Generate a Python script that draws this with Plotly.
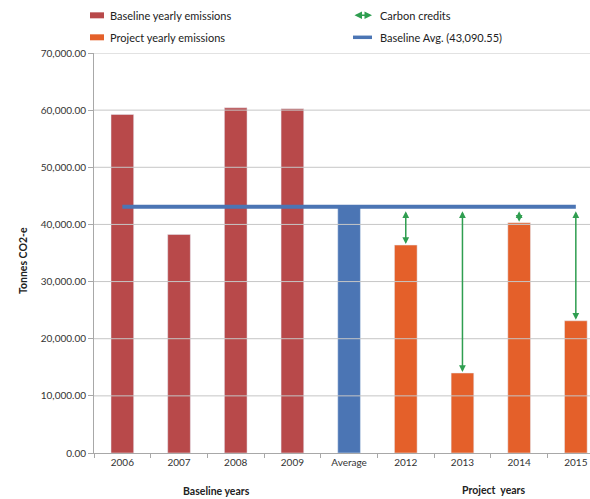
import plotly.graph_objects as go

categories = ["2006", "2007", "2008", "2009", "Average", "2012", "2013", "2014", "2015"]
baseline_years = ["2006", "2007", "2008", "2009"]
baseline_values = [59250, 38250, 60400, 60230]
baseline_avg = 43090.55
project_years = ["2012", "2013", "2014", "2015"]
project_values = [36390, 14000, 40280, 23140]
y_ticks = [0, 10000, 20000, 30000, 40000, 50000, 60000, 70000]

RED = "#b8494a"
ORANGE = "#e4602a"
BLUE = "#4b75b4"
GREEN = "#2f9e50"
FONT = "Lato"

fig = go.Figure()

# gridlines as a line trace on a hidden overlaying linear x axis
gx, gy = [], []
for t in y_ticks[1:]:
    gx += [0, 1, None]
    gy += [t, t, None]
fig.add_trace(go.Scatter(x=gx, y=gy, xaxis="x2", yaxis="y", mode="lines",
                         line=dict(color="#c6c6c6", width=1), hoverinfo="skip",
                         showlegend=False, name="grid"))

fig.add_trace(go.Bar(x=baseline_years, y=baseline_values, marker_color=RED, width=0.4,
                     name="Baseline yearly emissions", showlegend=False))
fig.add_trace(go.Bar(x=["Average"], y=[baseline_avg], marker_color=BLUE, width=0.4,
                     name="Average", showlegend=False))
fig.add_trace(go.Bar(x=project_years, y=project_values, marker_color=ORANGE, width=0.4,
                     name="Project yearly emissions", showlegend=False))
fig.add_trace(go.Scatter(x=[categories[0], categories[-1]], y=[baseline_avg, baseline_avg],
                         mode="lines", line=dict(color=BLUE, width=4),
                         name="Baseline Avg.", showlegend=False))

annotations = []
for yr, v in zip(project_years, project_values):
    xi = categories.index(yr)
    annotations.append(dict(x=xi, y=v, ax=xi, ay=baseline_avg, xref="x", yref="y",
                            axref="x", ayref="y", text="", showarrow=True,
                            arrowhead=2, startarrowhead=2, arrowside="end+start",
                            arrowsize=0.9, startarrowsize=0.9, arrowwidth=1.5,
                            arrowcolor=GREEN, startstandoff=3, standoff=1))

# axis group labels
annotations.append(dict(x=0.247, y=-0.095, xref="paper", yref="paper", text="<b>Baseline years</b>",
                        showarrow=False, font=dict(family=FONT, size=10.5, color="#222"),
                        xanchor="center", yanchor="middle"))
annotations.append(dict(x=0.806, y=-0.093, xref="paper", yref="paper", text="<b>Project  years</b>",
                        showarrow=False, font=dict(family=FONT, size=10.5, color="#222"),
                        xanchor="center", yanchor="middle"))
annotations.append(dict(x=-0.143, y=0.48, xref="paper", yref="paper", text="<b>Tonnes CO2-e</b>",
                        showarrow=False, textangle=-90, font=dict(family=FONT, size=10.5, color="#222"),
                        xanchor="center", yanchor="middle"))

# manual legend
def px_x(px):
    return (px - 94) / 496.0

def px_y(py):
    return (453 - py) / 400.3

shapes = []
legend_items = [
    ("rect", RED, "Baseline yearly emissions", 90, 15),
    ("rect", ORANGE, "Project yearly emissions", 90, 37),
    ("arrow", GREEN, "Carbon credits", 353, 15),
    ("line", BLUE, "Baseline Avg. (43,090.55)", 353, 37),
]
for kind, col, label, lx, ly in legend_items:
    if kind == "rect":
        shapes.append(dict(type="rect", xref="paper", yref="paper", x0=px_x(lx), x1=px_x(lx + 14),
                           y0=px_y(ly + 3), y1=px_y(ly - 3), fillcolor=col, line=dict(width=0)))
        tx = lx + 18
    elif kind == "line":
        shapes.append(dict(type="line", xref="paper", yref="paper", x0=px_x(lx), x1=px_x(lx + 19),
                           y0=px_y(ly), y1=px_y(ly), line=dict(color=col, width=3.5)))
        tx = lx + 25
    else:
        annotations.append(dict(x=px_x(lx + 19), y=px_y(ly), xref="paper", yref="paper",
                                ax=-19, ay=0, axref="pixel", ayref="pixel", text="", showarrow=True,
                                arrowhead=2, startarrowhead=2, arrowside="end+start",
                                arrowwidth=1.5, arrowcolor=col))
        tx = lx + 25
    annotations.append(dict(x=px_x(tx), y=px_y(ly), xref="paper", yref="paper", text=label,
                            showarrow=False, xanchor="left", yanchor="middle",
                            font=dict(family=FONT, size=11, color="#222")))

fig.update_layout(
    width=590, height=499,
    margin=dict(l=94, r=0, t=53, b=46),
    paper_bgcolor="white", plot_bgcolor="white",
    barmode="overlay",
    showlegend=False,
    annotations=annotations,
    shapes=shapes,
    font=dict(family=FONT, size=10, color="#333"),
    xaxis=dict(type="category", categoryorder="array", categoryarray=categories,
               range=[-0.5, 8.25], showgrid=False, showline=True, linecolor="#a8a8a8",
               ticks="outside", tickson="boundaries", ticklen=4, tickcolor="#a8a8a8",
               tickfont=dict(family=FONT, size=10, color="#333")),
    xaxis2=dict(overlaying="x", range=[0, 1], visible=False, showgrid=False, zeroline=False),
    yaxis=dict(range=[0, 70000], tickmode="array", tickvals=y_ticks, tickformat=",.2f",
               showgrid=False,
               showline=True, linecolor="#a8a8a8", ticks="outside", ticklen=5,
               tickcolor="#a8a8a8", zeroline=False,
               tickfont=dict(family=FONT, size=10, color="#333")),
)

fig.write_html("out.html")
